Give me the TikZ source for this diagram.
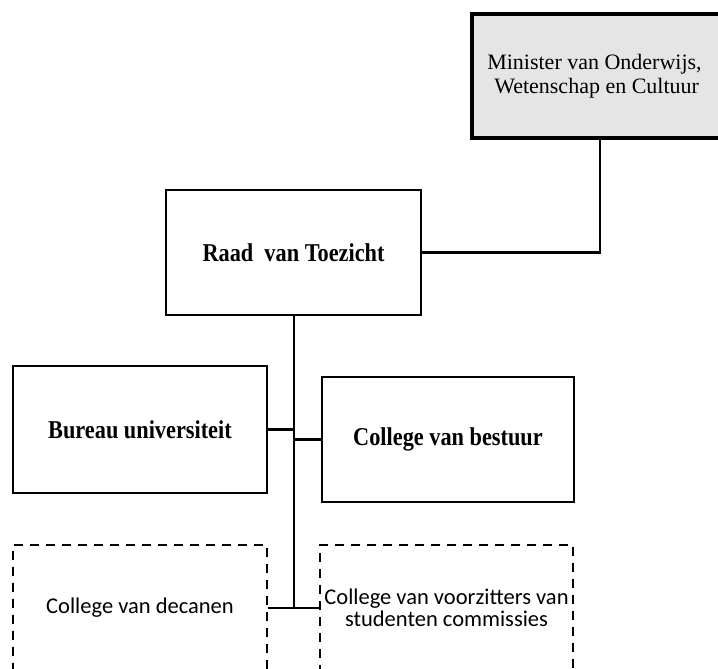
\documentclass[tikz,border=0pt]{standalone}
\usepackage{fontspec}
\setmainfont{Liberation Serif}
\newfontfamily\calibrifont{Carlito}
\newcommand{\tallbold}[1]{\scalebox{1}[1.15]{#1}}
\begin{document}
\begin{tikzpicture}[x=1pt,y=-1pt,
  solidbox/.style={draw=black, line width=2.8pt, fill=white, minimum width=#1, minimum height=125pt, inner sep=0pt, font=\fontsize{22.3}{23}\selectfont\bfseries},
  dashbox/.style={draw=black, line width=2.5pt, dash pattern=on 9pt off 7pt, minimum width=254pt, minimum height=126pt, inner sep=0pt, align=center, font=\calibrifont\fontsize{22.5}{22.5}\selectfont},
  conn/.style={draw=black, line width=2.5pt}]
\useasboundingbox (0,0) rectangle (718,669);
% Minister
\node[draw=black, line width=3.2pt, fill=black!10, minimum width=252pt, minimum height=124pt, inner sep=0pt, align=left,
  font=\fontsize{22}{23.5}\selectfont] (min) at (598,76)
  {\hspace*{-7pt}Minister van Onderwijs,\\ \hspace*{0pt}Wetenschap en Cultuur};
\node[solidbox=255pt] (raad) at (293.5,252.5) {\tallbold{Raad\ \ van Toezicht}};
\node[solidbox=254pt, minimum height=127pt] (bureau) at (140,429.5) {\tallbold{Bureau universiteit}};
\node[solidbox=252pt] (bestuur) at (448,439.5) {\tallbold{College van bestuur}};
\node[dashbox] (decanen) at (140,608) {College van decanen};
\node[dashbox, minimum width=253pt] (voorz) at (446.5,608) {College van voorzitters van\\ studenten commissies};
\coordinate (mx) at (600,0);
\coordinate (bot) at (294,608);
\draw[conn] (min.south -| mx) |- (raad.east);
\draw[conn] (raad.south -| bot) -- (bot);
\draw[conn] (bureau.east) -- (bureau.east -| bot);
\draw[conn] (bestuur.west) -- (bestuur.west -| bot);
\draw[conn] (decanen.east) -- (voorz.west);
\end{tikzpicture}
\end{document}
